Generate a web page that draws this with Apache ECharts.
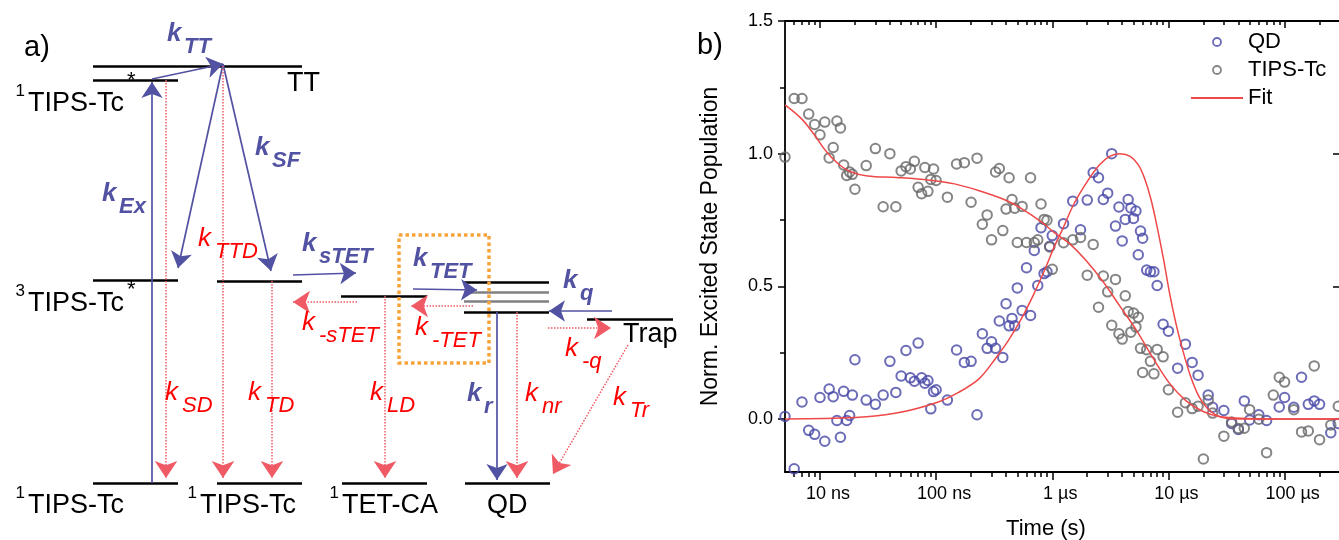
<!DOCTYPE html>
<html><head><meta charset="utf-8">
<script src="https://cdn.jsdelivr.net/npm/echarts@6/dist/echarts.min.js"></script>
<style>html,body{margin:0;padding:0;background:#fff}#c{width:1339px;height:540px}</style>
</head><body><div id="c"></div>
<script>
// ================= Panel b: data =================
const qdTimesNs = [5,6,7,8,9,10,11,12,13,14,15,16,17,18,19,20,25,30,35,40,45,50,55,60,65,70,75,80,85,90,95,100,
  125,150,175,200,225,250,275,300,325,350,375,400,425,450,475,500,550,600,650,700,750,800,850,900,950,1000,
  1250,1500,1750,2000,2250,2500,2750,3000,3250,3500,3750,4000,4250,4500,4750,5000,5250,5500,5750,6000,6500,7000,7500,8000,9000,10000,
  12000,14000,16000,18000,22000,24000,30000,35000,40000,45000,50000,60000,70000,90000,100000,120000,140000,160000,180000,200000,250000,290000];
const qdValues = [0.009,-0.188,0.064,-0.043,-0.058,0.081,-0.084,0.113,0.084,-0.006,-0.069,0.104,-0.006,0.013,0.090,0.223,0.071,0.055,0.090,0.217,0.100,0.162,0.258,0.155,0.142,0.286,0.155,0.135,0.145,0.038,0.103,0.110,
  0.071,0.260,0.213,0.217,0.016,0.321,0.266,0.291,0.266,0.369,0.232,0.434,0.351,0.379,0.351,0.494,0.409,0.570,0.390,0.635,0.503,0.721,0.548,0.555,0.651,0.691,
  0.736,0.821,0.713,0.825,0.929,0.909,0.827,0.851,1.0,0.727,0.799,0.671,0.752,0.827,0.795,0.756,0.784,0.619,0.708,0.681,0.561,0.555,0.555,0.503,0.357,0.331,
  0.191,0.282,0.213,0.165,0.090,0.044,0.032,-0.017,-0.040,0.068,-0.004,0.016,-0.006,0.045,0.081,0.044,0.157,0.055,0.068,0.055,-0.052,-0.017];
const tipsTimesNs = [5,6,7,8,9,10,11,12,13,14,15,16,17,18,19,20,25,30,35,40,45,50,55,60,65,70,75,80,85,90,95,100,
  125,150,175,200,225,250,275,300,325,350,375,400,425,450,475,500,550,600,650,700,750,800,850,900,950,1000,
  1250,1500,1750,2000,2250,2500,2750,3000,3250,3500,3750,4000,4250,4500,4750,5000,5250,5500,5750,6000,6500,7000,7500,8000,9000,10000,
  12000,14000,16000,18000,20000,22000,24000,30000,35000,40000,45000,50000,60000,70000,80000,90000,100000,120000,140000,160000,180000,200000,250000,290000];
const tipsValues = [0.987,1.208,1.208,1.149,1.110,1.071,1.119,0.984,1.023,1.123,1.097,0.957,0.918,0.931,0.922,0.866,0.955,1.019,0.800,1.0,0.800,0.935,0.951,0.942,0.971,0.873,0.849,0.948,0.858,0.903,0.942,0.899,
  0.836,0.961,0.966,0.817,0.983,0.734,0.769,0.675,0.931,0.944,0.710,0.791,0.909,0.827,0.794,0.665,0.801,0.665,0.909,0.665,0.675,0.810,0.752,0.749,0.648,0.564,
  0.664,0.675,0.684,0.542,0.658,0.421,0.539,0.479,0.353,0.526,0.321,0.301,0.464,0.405,0.327,0.399,0.347,0.383,0.266,0.175,0.261,0.217,0.170,0.262,0.234,0.110,
  0.025,0.061,0.039,0.048,-0.151,0.071,0.022,-0.065,-0.012,-0.036,-0.035,0.035,-0.001,-0.127,0.090,0.157,0.139,0.035,-0.049,-0.045,0.200,-0.078,-0.023,0.048];
const qdFitTimes = [5e-9,2.01e-8,4.56e-8,1.0e-7,1.56e-7,2.35e-7,3.27e-7,4.18e-7,5.35e-7,6.82e-7,8.73e-7,1.03e-6,1.21e-6,1.55e-6,1.98e-6,2.54e-6,3.11e-6,3.82e-6,4.69e-6,5.53e-6,6.25e-6,7.08e-6,8.0e-6,9.04e-6,1.02e-5,1.16e-5,1.31e-5,1.54e-5,1.82e-5,2.14e-5,2.74e-5,3.8e-5,3e-4];
const qdFitValues = [0,0.005,0.022,0.061,0.100,0.152,0.230,0.295,0.373,0.464,0.568,0.645,0.710,0.814,0.892,0.957,0.990,1.0,0.990,0.957,0.905,0.827,0.723,0.606,0.477,0.360,0.269,0.165,0.087,0.042,0.009,0,0];
const tipsFitTimes = [5e-9,6.92e-9,8.85e-9,1.13e-8,1.45e-8,1.85e-8,2.57e-8,4.56e-8,8.79e-8,1.44e-7,2.35e-7,3.85e-7,5.35e-7,8.05e-7,1.03e-6,1.43e-6,1.98e-6,2.75e-6,3.82e-6,5.31e-6,7.36e-6,1.02e-5,1.42e-5,1.97e-5,2.74e-5,4.12e-5,7.33e-5,3e-4];
const tipsFitValues = [1.184,1.132,1.074,1.009,0.960,0.931,0.916,0.910,0.900,0.886,0.860,0.827,0.795,0.743,0.704,0.658,0.594,0.516,0.425,0.334,0.230,0.135,0.068,0.029,0.009,0.003,0,0];
const xMajorTicks = [1e-8,1e-7,1e-6,1e-5,1e-4];
const xMajorLabels = ['10 ns','100 ns','1 µs','10 µs','100 µs'];
const xMinorMantissas = [2,3,4,5,6,7,8,9];
const xMinorDecades = [1e-9,1e-8,1e-7,1e-6,1e-5,1e-4];
const yMajorTicks = [0,0.5,1.0,1.5];
const yMinorTicks = [0.25,0.75,1.25];

// ================= Panel a: diagram data (diagram units) =================
const levels = [[93,302,66],[93,178,80],[93,178,280],[217,302,281],[341,427,296],
  [464,549,282],[464,549,312],[587,673,319],[93,178,483],[217,302,483],[342,427,483],[465,550,483]];
const qdSubLevels = [[464,549,292],[464,549,301]];
const blueArrows = [[152,483,152,82],[152,79,223,64],[223,64,178,268],[223,64,271,271],
  [293,275,356,273],[413,289,477,290],[612,311,549,311],[497,312,497,480]];
const redArrows = [[166,80,166,478],[223,66,223,478],[272,281,272,478],[357,302,293,302],
  [385,296,385,478],[473,306,411,306],[548,328,611,328],[517,312,517,478],[628,345,553,474]];
const tetBox = [[399,235],[489,235],[489,363],[399,363],[399,235]];
const rateLabels = [[167,43,'TT','b'],[102,203,'Ex','b'],[255,157,'SF','b'],[198,248,'TTD','r'],
  [302,253,'sTET','b'],[413,268,'TET','b'],[563,290,'q','b'],
  [302,332,'-sTET','r'],[415,337,'-TET','r'],[565,358,'-q','r'],
  [165,402,'SD','r'],[248,402,'TD','r'],[370,402,'LD','r'],
  [467,403,'r','b'],[525,403,'nr','r'],[613,407,'Tr','r']];
const stateLabels = [[28,113,'1','TIPS-Tc','*',127,89],[28,313,'3','TIPS-Tc','*',127,298],
  [28,515,'1','TIPS-Tc','',0,0],[200,515,'1','TIPS-Tc','',0,0],[342,515,'1','TET-CA','',0,0],
  [487,515,'','QD','',0,0],[287,93,'','TT','',0,0],[623,344,'','Trap','',0,0]];

// ================= styles =================
const FONT = '"Liberation Sans", Arial, Helvetica, sans-serif';
const BLUE = '#5252a3', RED = '#ff0000', RED_LINE = '#ef5a64', ORANGE = '#f7a53b';
const QD_COLOR = '#4646a6', TIPS_COLOR = '#666666', FIT_COLOR = '#ef4848';
const LOG = Math.log10;
const xMin = LOG(5e-9), xMax = LOG(3e-4);
const xMinor = [];
xMinorDecades.forEach(d => xMinorMantissas.forEach(m => { const v = LOG(m*d); if (v > xMin + 1e-6 && v < xMax) xMinor.push(v); }));

function txt(x, baseline, s, size, weight, color, align, fstyle) {
  return {type:'text', x:x, y:baseline - 0.347*size,
    style:{text:s, fontSize:size, fontWeight:weight, fontStyle:fstyle||'normal', fontFamily:FONT,
      fill:color, align:align, verticalAlign:'middle'}};
}
function stateItem(params, api) {
  const d = stateLabels[params.dataIndex];
  const p = api.coord([d[0], d[1]]);
  const kids = [txt(p[0], p[1], d[3], 27, 'normal', '#000', 'left')];
  if (d[2]) kids.push(txt(p[0]-3, p[1]-16, d[2], 17, 'normal', '#000', 'right'));
  if (d[4]) { const q = api.coord([d[5], d[6]]); kids.push(txt(q[0], q[1], d[4], 22, 'normal', '#000', 'left')); }
  return {type:'group', children:kids};
}
function rateItem(params, api) {
  const d = rateLabels[params.dataIndex];
  const p = api.coord([d[0], d[1]]);
  const blue = d[3] === 'b';
  const col = blue ? BLUE : RED, w = blue ? 'bold' : 'normal';
  return {type:'group', children:[
    txt(p[0], p[1], 'k', 26, w, col, 'left', 'italic'),
    txt(p[0]+17, p[1]+12, d[2], 22, w, col, 'left', 'italic')]};
}
function segs(arr) { return arr.map(a => ({coords:[[a[0],a[1]],[a[2],a[3]]]})); }
function hsegs(arr) { return arr.map(l => ({coords:[[l[0],l[2]],[l[1],l[2]]]})); }

function xAxisB(position, values, len, inside, showLine, labels) {
  return {type:'value', gridIndex:1, position:position, min:xMin, max:xMax,
    axisLine:{show:showLine, onZero:false, lineStyle:{color:'#000', width:1.8}},
    axisTick:{show:true, inside:inside, length:len, customValues:values, lineStyle:{color:'#000', width:1.5}},
    axisLabel: labels ? {show:true, customValues:values, margin:13, color:'#000', fontSize:18, fontFamily:FONT,
      padding:[0,0,0,16], formatter: v => xMajorLabels[Math.round(v) + 8]} : {show:false},
    splitLine:{show:false}};
}
function yAxisB(position, values, len, inside, showLine, labels) {
  return {type:'value', gridIndex:1, position:position, min:-0.2, max:1.5,
    axisLine:{show:showLine, onZero:false, lineStyle:{color:'#000', width:1.8}},
    axisTick:{show:true, inside:inside, length:len, customValues:values, lineStyle:{color:'#000', width:1.5}},
    axisLabel: labels ? {show:true, customValues:values, margin:12, color:'#000', fontSize:18, fontFamily:FONT,
      formatter: v => v.toFixed(1)} : {show:false},
    splitLine:{show:false}};
}

const xBottom = xAxisB('bottom', xMajorTicks.map(LOG), 8, false, true, true);
xBottom.name = 'Time (s)'; xBottom.nameLocation = 'middle'; xBottom.nameGap = 46;
xBottom.nameTextStyle = {fontSize:22, fontFamily:FONT, color:'#000', padding:[0,33,0,0]};
const yLeft = yAxisB('left', yMajorTicks, 7, false, true, true);
yLeft.name = 'Norm. Excited State Population'; yLeft.nameLocation = 'middle'; yLeft.nameGap = 63;
yLeft.nameTextStyle = {fontSize:23, fontFamily:FONT, color:'#000'};

const option = {
  animation:false,
  backgroundColor:'#fff',
  title:[
    {text:'a)', left:24, top:33, padding:0, textStyle:{fontSize:29, fontWeight:'normal', fontFamily:FONT, color:'#000'}},
    {text:'b)', left:697, top:31, padding:0, textStyle:{fontSize:29, fontWeight:'normal', fontFamily:FONT, color:'#000'}}
  ],
  legend:{orient:'vertical', left:1185, top:26, itemWidth:52, itemHeight:8, itemGap:6, selectedMode:false,
    textStyle:{fontSize:22, fontFamily:FONT, color:'#000', lineHeight:22},
    data:[{name:'QD', icon:'circle', itemStyle:{color:'rgba(0,0,0,0)', borderColor:QD_COLOR, borderWidth:1.8}},
          {name:'TIPS-Tc', icon:'circle', itemStyle:{color:'rgba(0,0,0,0)', borderColor:TIPS_COLOR, borderWidth:1.8}},
          {name:'Fit', itemStyle:{color:'rgba(0,0,0,0)', borderWidth:0, opacity:0}}]},
  grid:[
    {left:0, top:0, width:690, height:540, outerBoundsMode:'none'},
    {left:785, top:21, width:555, height:451, outerBoundsMode:'none'}
  ],
  xAxis:[
    {type:'value', gridIndex:0, min:0, max:690, show:false},
    xBottom,
    xAxisB('bottom', xMinor, 5, false, false, false),
    xAxisB('top', xMajorTicks.map(LOG), 7, true, true, false),
    xAxisB('top', xMinor, 4, true, false, false)
  ],
  yAxis:[
    {type:'value', gridIndex:0, min:0, max:540, inverse:true, show:false},
    yLeft,
    yAxisB('left', yMinorTicks, 5, false, false, false),
    yAxisB('right', yMajorTicks, 7, true, true, false)
  ],
  series:[
    // ---- panel a ----
    {type:'lines', coordinateSystem:'cartesian2d', xAxisIndex:0, yAxisIndex:0, silent:true, z:2,
      data:hsegs(levels), symbol:'none', lineStyle:{color:'#000', width:2.5, opacity:1}},
    {type:'lines', coordinateSystem:'cartesian2d', xAxisIndex:0, yAxisIndex:0, silent:true, z:2,
      data:hsegs(qdSubLevels), symbol:'none', lineStyle:{color:'#808080', width:2.7, opacity:1}},
    {type:'lines', coordinateSystem:'cartesian2d', xAxisIndex:0, yAxisIndex:0, silent:true, z:3,
      data:segs(blueArrows), symbol:['none','arrow'], symbolSize:[11,16], lineStyle:{color:BLUE, width:1.7, opacity:1}},
    {type:'lines', coordinateSystem:'cartesian2d', xAxisIndex:0, yAxisIndex:0, silent:true, z:3,
      data:segs(redArrows), symbol:['none','arrow'], symbolSize:[13,17], lineStyle:{color:RED_LINE, width:1.5, type:[1.5,1.5], opacity:1}},
    {type:'lines', coordinateSystem:'cartesian2d', xAxisIndex:0, yAxisIndex:0, silent:true, z:5, polyline:true,
      data:[{coords:tetBox}], symbol:'none', lineStyle:{color:ORANGE, width:3.5, type:[3.5,3], cap:'butt', opacity:1}},
    {type:'custom', coordinateSystem:'cartesian2d', xAxisIndex:0, yAxisIndex:0, silent:true, z:4,
      data:stateLabels.map(d => [d[0], d[1]]), renderItem:stateItem},
    {type:'custom', coordinateSystem:'cartesian2d', xAxisIndex:0, yAxisIndex:0, silent:true, z:4,
      data:rateLabels.map(d => [d[0], d[1]]), renderItem:rateItem},
    // ---- panel b ----
    {type:'scatter', name:'QD', xAxisIndex:1, yAxisIndex:1, symbol:'circle', symbolSize:9.5, z:3,
      itemStyle:{color:'rgba(0,0,0,0)', borderColor:QD_COLOR, borderWidth:2},
      data:qdTimesNs.map((t,i) => [LOG(t*1e-9), qdValues[i]])},
    {type:'scatter', name:'TIPS-Tc', xAxisIndex:1, yAxisIndex:1, symbol:'circle', symbolSize:9.5, z:3,
      itemStyle:{color:'rgba(0,0,0,0)', borderColor:TIPS_COLOR, borderWidth:2},
      data:tipsTimesNs.map((t,i) => [LOG(t*1e-9), tipsValues[i]])},
    {type:'line', name:'Fit', xAxisIndex:1, yAxisIndex:1, symbol:'none', smooth:0.35, z:4,
      lineStyle:{color:FIT_COLOR, width:1.5}, itemStyle:{color:FIT_COLOR},
      data:qdFitTimes.map((t,i) => [LOG(t), qdFitValues[i]])},
    {type:'line', name:'Fit', xAxisIndex:1, yAxisIndex:1, symbol:'none', smooth:0.35, z:4,
      lineStyle:{color:FIT_COLOR, width:1.5}, itemStyle:{color:FIT_COLOR},
      data:tipsFitTimes.map((t,i) => [LOG(t), tipsFitValues[i]])}
  ]
};
const chart = echarts.init(document.getElementById('c'), null, {renderer:'canvas'});
chart.setOption(option);
</script></body></html>
